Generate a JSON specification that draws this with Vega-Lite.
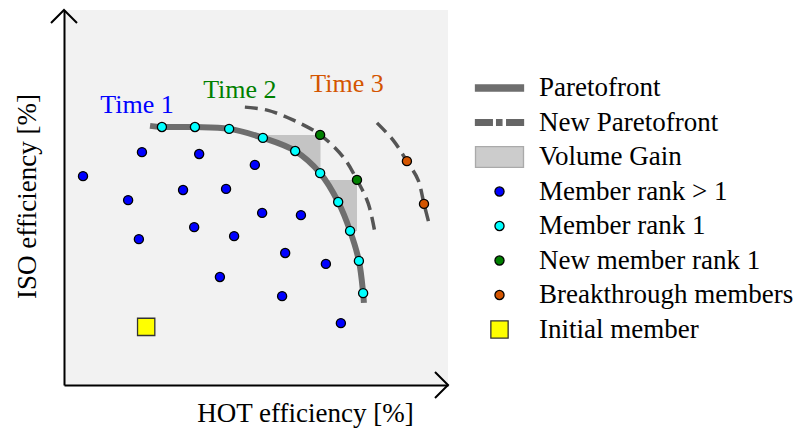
{
  "$schema": "https://vega.github.io/schema/vega-lite/v6.json",
  "autosize": {"type": "none"},
  "width": 384,
  "height": 375,
  "padding": {"left": 64, "top": 10, "right": 358, "bottom": 44},
  "config": {
    "view": {"fill": "#f2f2f2", "stroke": null},
    "font": "Liberation Serif"
  },
  "encoding": {
    "x": {
      "field": "x", "type": "quantitative",
      "scale": {"domain": [0, 100], "nice": false, "zero": false},
      "axis": {
        "title": "HOT efficiency [%]", "domain": true, "domainColor": "black", "domainWidth": 2, "zindex": 1,
        "ticks": false, "labels": false, "grid": false,
        "titleFont": "Liberation Serif", "titleFontSize": 27, "titleFontWeight": "normal", "titleColor": "black",
        "titleX": 241, "titleY": 36, "titleBaseline": "alphabetic", "titleAlign": "center"
      }
    },
    "y": {
      "field": "y", "type": "quantitative",
      "scale": {"domain": [0, 100], "nice": false, "zero": false},
      "axis": {
        "title": "ISO efficiency [%]", "domain": true, "domainColor": "black", "domainWidth": 2, "zindex": 1,
        "ticks": false, "labels": false, "grid": false,
        "titleFont": "Liberation Serif", "titleFontSize": 27, "titleFontWeight": "normal", "titleColor": "black",
        "titleX": -29, "titleY": 186, "titleAngle": 270, "titleBaseline": "alphabetic", "titleAlign": "center"
      }
    }
  },
  "layer": [
    {
      "data": {"values": [
        {"x": 51.8, "x2": 66.8, "y": 56.5, "y2": 66.7},
        {"x": 66.7, "x2": 76.3, "y": 41.1, "y2": 54.7}
      ]},
      "mark": {"type": "rect", "color": "#c4c4c4"},
      "encoding": {"x2": {"field": "x2"}, "y2": {"field": "y2"}}
    },
    {
      "data": {"name": "front", "values": [
        {"x": 22.4, "y": 69.1}, {"x": 25.5, "y": 68.8}, {"x": 34.1, "y": 68.8}, {"x": 43.0, "y": 68.3},
        {"x": 51.8, "y": 65.9}, {"x": 60.2, "y": 62.4}, {"x": 66.7, "y": 56.5}, {"x": 71.4, "y": 48.8},
        {"x": 74.5, "y": 41.1}, {"x": 76.8, "y": 33.1}, {"x": 77.9, "y": 24.5}, {"x": 78.1, "y": 21.9}
      ]},
      "layer": [
        {
          "mark": {"type": "area", "color": "#f2f2f2", "opacity": 1, "interpolate": "catmull-rom"},
          "encoding": {"y2": {"datum": 0}}
        },
        {
          "mark": {"type": "line", "color": "#6e6e6e", "strokeWidth": 6, "interpolate": "catmull-rom"}
        }
      ]
    },
    {
      "data": {"values": [
        {"front": "Time 2", "x": 47.1, "y": 74.1}, {"front": "Time 2", "x": 52.9, "y": 73.3},
        {"front": "Time 2", "x": 59.6, "y": 70.7}, {"front": "Time 2", "x": 66.7, "y": 66.7},
        {"front": "Time 2", "x": 72.7, "y": 60.8}, {"front": "Time 2", "x": 76.3, "y": 54.7},
        {"front": "Time 2", "x": 79.2, "y": 48.5}, {"front": "Time 2", "x": 81.0, "y": 40.5},
        {"front": "Time 3", "x": 81.5, "y": 69.9}, {"front": "Time 3", "x": 85.7, "y": 65.3},
        {"front": "Time 3", "x": 89.3, "y": 59.7}, {"front": "Time 3", "x": 92.2, "y": 54.7},
        {"front": "Time 3", "x": 93.75, "y": 48.3}, {"front": "Time 3", "x": 95.1, "y": 42.9}
      ]},
      "mark": {"type": "line", "color": "#555555", "strokeWidth": 3.5, "strokeDash": [13, 7], "interpolate": "catmull-rom"},
      "encoding": {"detail": {"field": "front"}}
    },
    {
      "data": {"values": [
        {"series": "Member rank > 1", "x": 4.95, "y": 55.7},
        {"series": "Member rank > 1", "x": 20.3, "y": 62.1},
        {"series": "Member rank > 1", "x": 35.2, "y": 61.6},
        {"series": "Member rank > 1", "x": 49.7, "y": 58.7},
        {"series": "Member rank > 1", "x": 16.7, "y": 49.3},
        {"series": "Member rank > 1", "x": 31.0, "y": 52.0},
        {"series": "Member rank > 1", "x": 42.2, "y": 52.3},
        {"series": "Member rank > 1", "x": 51.6, "y": 45.9},
        {"series": "Member rank > 1", "x": 61.7, "y": 45.3},
        {"series": "Member rank > 1", "x": 33.9, "y": 42.1},
        {"series": "Member rank > 1", "x": 44.3, "y": 39.7},
        {"series": "Member rank > 1", "x": 19.5, "y": 38.9},
        {"series": "Member rank > 1", "x": 57.6, "y": 35.2},
        {"series": "Member rank > 1", "x": 68.2, "y": 32.3},
        {"series": "Member rank > 1", "x": 40.6, "y": 28.8},
        {"series": "Member rank > 1", "x": 56.8, "y": 23.7},
        {"series": "Member rank > 1", "x": 72.1, "y": 16.5},
        {"series": "Member rank 1", "x": 25.5, "y": 68.8},
        {"series": "Member rank 1", "x": 34.1, "y": 68.8},
        {"series": "Member rank 1", "x": 43.0, "y": 68.3},
        {"series": "Member rank 1", "x": 51.8, "y": 65.9},
        {"series": "Member rank 1", "x": 60.2, "y": 62.4},
        {"series": "Member rank 1", "x": 66.7, "y": 56.5},
        {"series": "Member rank 1", "x": 71.4, "y": 48.8},
        {"series": "Member rank 1", "x": 74.5, "y": 41.1},
        {"series": "Member rank 1", "x": 76.8, "y": 33.1},
        {"series": "Member rank 1", "x": 77.9, "y": 24.5},
        {"series": "New member rank 1", "x": 66.7, "y": 66.7},
        {"series": "New member rank 1", "x": 76.3, "y": 54.7},
        {"series": "Breakthrough members", "x": 89.3, "y": 59.7},
        {"series": "Breakthrough members", "x": 93.75, "y": 48.3},
        {"series": "Initial member", "x": 21.4, "y": 15.5}
      ]},
      "mark": {"type": "point", "filled": true, "opacity": 1, "size": 1600, "strokeWidth": 1.3},
      "encoding": {
        "fill": {
          "field": "series", "type": "nominal",
          "scale": {
            "domain": ["Paretofront", "New Paretofront", "Volume Gain", "Member rank > 1", "Member rank 1", "New member rank 1", "Breakthrough members", "Initial member"],
            "range": ["#6e6e6e", "#666666", "#cccccc", "#0000ff", "#00ffff", "#008000", "#d45500", "#ffff00"]
          },
          "legend": {"title": null, "orient": "none", "legendX": 414.5, "legendY": 57, "padding": 0, "labelFont": "Liberation Serif", "labelFontSize": 27, "labelColor": "black", "labelLimit": 400, "labelOffset": 18.5, "rowPadding": 0.5, "symbolSize": 1600, "symbolStrokeWidth": 1.3, "symbolOpacity": 1}
        },
        "stroke": {
          "field": "series", "type": "nominal",
          "scale": {
            "domain": ["Paretofront", "New Paretofront", "Volume Gain", "Member rank > 1", "Member rank 1", "New member rank 1", "Breakthrough members", "Initial member"],
            "range": ["#6e6e6e", "#666666", "#aaaaaa", "#000000", "#000000", "#000000", "#000000", "#333333"]
          },
          "legend": {"title": null, "orient": "none", "legendX": 414.5, "legendY": 57, "padding": 0, "labelFont": "Liberation Serif", "labelFontSize": 27, "labelColor": "black", "labelLimit": 400, "labelOffset": 18.5, "rowPadding": 0.5, "symbolSize": 1600, "symbolStrokeWidth": 1.3, "symbolOpacity": 1}
        },
        "shape": {
          "field": "series", "type": "nominal",
          "scale": {
            "domain": ["Paretofront", "New Paretofront", "Volume Gain", "Member rank > 1", "Member rank 1", "New member rank 1", "Breakthrough members", "Initial member"],
            "range": [
              "M-1.2,-0.156H1.2V0.156H-1.2Z",
              "M-1.2,-0.144H-0.36V0.144H-1.2Z M-0.144,-0.144H0.12V0.144H-0.144Z M0.36,-0.144H1.2V0.144H0.36Z",
              "M-1.2,-0.516H1.2V0.516H-1.2Z",
              "M0.228,0A0.228,0.228,0,1,1,-0.228,0A0.228,0.228,0,1,1,0.228,0Z",
              "M0.228,0A0.228,0.228,0,1,1,-0.228,0A0.228,0.228,0,1,1,0.228,0Z",
              "M0.228,0A0.228,0.228,0,1,1,-0.228,0A0.228,0.228,0,1,1,0.228,0Z",
              "M0.228,0A0.228,0.228,0,1,1,-0.228,0A0.228,0.228,0,1,1,0.228,0Z",
              "M-0.432,-0.432H0.432V0.432H-0.432Z"
            ]
          },
          "legend": {"title": null, "orient": "none", "legendX": 414.5, "legendY": 57, "padding": 0, "labelFont": "Liberation Serif", "labelFontSize": 27, "labelColor": "black", "labelLimit": 400, "labelOffset": 18.5, "rowPadding": 0.5, "symbolSize": 1600, "symbolStrokeWidth": 1.3, "symbolOpacity": 1}
        }
      }
    },
    {
      "data": {"values": [
        {"label": "Time 1", "x": 19.0, "y": 72.5},
        {"label": "Time 2", "x": 45.8, "y": 76.5},
        {"label": "Time 3", "x": 73.7, "y": 78.1}
      ]},
      "mark": {"type": "text", "font": "Liberation Serif", "fontSize": 26, "align": "center", "baseline": "alphabetic"},
      "encoding": {
        "text": {"field": "label"},
        "color": {
          "field": "label", "type": "nominal",
          "scale": {"domain": ["Time 1", "Time 2", "Time 3"], "range": ["#0000ff", "#008000", "#d45500"]},
          "legend": null
        }
      }
    },
    {
      "data": {"values": [{"x": 0, "y": 100}]},
      "mark": {"type": "point", "shape": "M-1,1L0,0L1,1", "filled": false, "opacity": 1, "stroke": "black", "strokeWidth": 2, "size": 676, "clip": false}
    },
    {
      "data": {"values": [{"x": 100, "y": 0}]},
      "mark": {"type": "point", "shape": "M-1,-1L0,0L-1,1", "filled": false, "opacity": 1, "stroke": "black", "strokeWidth": 2, "size": 676, "clip": false}
    }
  ]
}
